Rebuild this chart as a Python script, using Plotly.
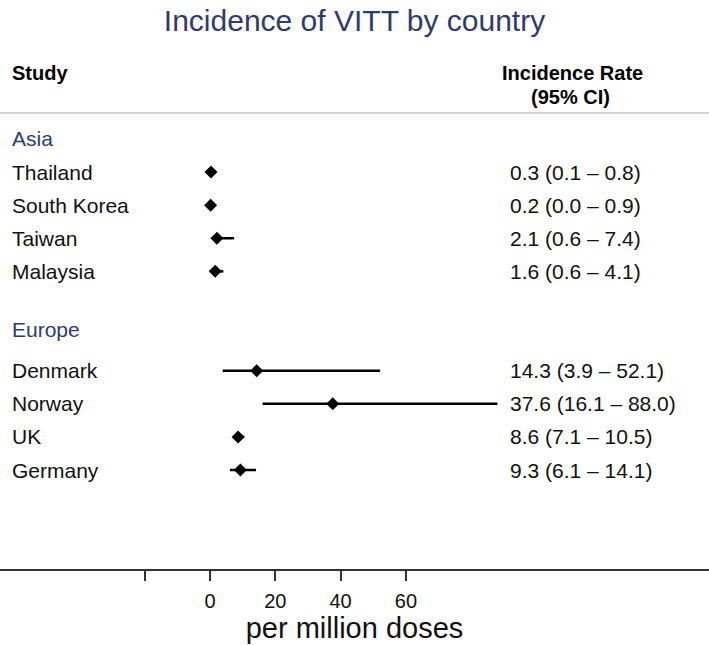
import plotly.graph_objects as go

# data
countries = ['Thailand', 'South Korea', 'Taiwan', 'Malaysia',
             'Denmark', 'Norway', 'UK', 'Germany']
regions = ['Asia', 'Asia', 'Asia', 'Asia',
           'Europe', 'Europe', 'Europe', 'Europe']
rate = [0.3, 0.2, 2.1, 1.6, 14.3, 37.6, 8.6, 9.3]
ci_low = [0.1, 0.0, 0.6, 0.6, 3.9, 16.1, 7.1, 6.1]
ci_high = [0.8, 0.9, 7.4, 4.1, 52.1, 88.0, 10.5, 14.1]
tick_vals = [-20, 0, 20, 40, 60]
tick_text = ['', '0', '20', '40', '60']

# row layout (row index -> vertical slot)
group_rows = {'Asia': 1, 'Europe': 6.75}
rows = [2, 3, 4, 5, 8, 9, 10, 11]

W, H = 709, 645
FONT = 'Arial'
NAVY = '#2f3b6e'

fig = go.Figure()

fig.add_trace(go.Scatter(
    x=rate,
    y=rows,
    mode='markers',
    marker=dict(symbol='diamond', size=10, color='black'),
    error_x=dict(type='data', symmetric=False,
                 array=[h - r for h, r in zip(ci_high, rate)],
                 arrayminus=[r - l for r, l in zip(rate, ci_low)],
                 color='black', thickness=2.5, width=0),
    showlegend=False,
    hoverinfo='skip',
))

annots = []
# headers
annots.append(dict(x=10 / W, y=-0.99, xref='paper', yref='y', text='<b>Study</b>',
                   xanchor='left', yanchor='middle', showarrow=False,
                   font=dict(family=FONT, size=20, color='black')))
annots.append(dict(x=572 / W, y=-0.99, xref='paper', yref='y', text='<b>Incidence Rate</b>',
                   xanchor='center', yanchor='middle', showarrow=False,
                   font=dict(family=FONT, size=20, color='black')))
annots.append(dict(x=570 / W, y=-0.27, xref='paper', yref='y', text='<b>(95% CI)</b>',
                   xanchor='center', yanchor='middle', showarrow=False,
                   font=dict(family=FONT, size=20, color='black')))

for g, r in group_rows.items():
    annots.append(dict(x=10 / W, y=r, xref='paper', yref='y', text=g,
                       xanchor='left', yanchor='middle', showarrow=False,
                       font=dict(family=FONT, size=21, color=NAVY)))

for name, r, v, l, h in zip(countries, rows, rate, ci_low, ci_high):
    annots.append(dict(x=10 / W, y=r, xref='paper', yref='y', text=name,
                       xanchor='left', yanchor='middle', showarrow=False,
                       font=dict(family=FONT, size=21, color='#111111')))
    annots.append(dict(x=508 / W, y=r, xref='paper', yref='y',
                       text=f'{v:.1f} ({l:.1f} \u2013 {h:.1f})',
                       xanchor='left', yanchor='middle', showarrow=False,
                       font=dict(family=FONT, size=21, color='#111111')))

fig.update_layout(
    width=W, height=H,
    margin=dict(l=0, r=0, t=0, b=76),
    paper_bgcolor='white',
    plot_bgcolor='white',
    title=dict(text='Incidence of VITT by country',
               x=0.5, xanchor='center',
               y=1 - 20 / H, yref='container', yanchor='middle',
               font=dict(family=FONT, size=30, color=NAVY)),
    annotations=annots,
    shapes=[dict(type='line', xref='paper', yref='y', x0=0, x1=1, y0=0.22, y1=0.22,
                 line=dict(color='#d4d4d4', width=2))],
    xaxis=dict(range=[-64.3, 152.8],
               tickvals=tick_vals, ticktext=tick_text,
               ticks='outside', ticklen=10, tickwidth=2, tickcolor='#333333',
               showline=True, linecolor='#333333', linewidth=2,
               showgrid=False, zeroline=False,
               ticklabelstandoff=3,
               tickfont=dict(family=FONT, size=20, color='#111111'),
               title=dict(text='per million doses', standoff=0,
                          font=dict(family=FONT, size=29, color='#111111'))),
    yaxis=dict(range=[13.99, -3.196], visible=False, showgrid=False, zeroline=False),
)

fig.write_html('out.html', config={'displayModeBar': False},
               post_script="document.body.style.margin='0';")
